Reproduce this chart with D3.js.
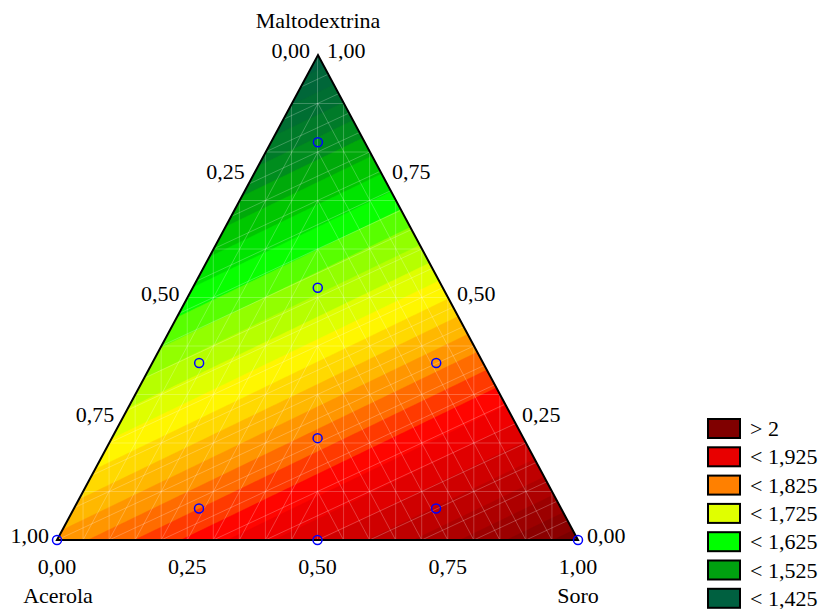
<!DOCTYPE html>
<html>
<head>
<meta charset="utf-8">
<script src="https://cdn.jsdelivr.net/npm/d3@7"></script>
<style>
  body { margin: 0; background: #fff; }
  text { font-family: "Liberation Serif", "Times New Roman", serif; font-size: 22px; fill: #000; }
</style>
</head>
<body>
<svg id="chart"></svg>
<script>
// Chart size
const width = 824;
const height = 609;

// Components (corner names) and fitted linear coefficients
const components = ["Acerola", "Soro", "Maltodextrina"];
const coefficients = [1.76, 2.04, 1.36];

// Design points (fractions of each component)
const pointsA = [1, 0, 0.5, 0.695, 0.24, 0.545, 0.09, 0.395, 0.24, 0.09];
const pointsS = [0, 1, 0.5, 0.24, 0.695, 0.09, 0.545, 0.395, 0.24, 0.09];
const pointsM = [0, 0, 0, 0.065, 0.065, 0.365, 0.365, 0.21, 0.52, 0.82];

// Axis ticks
const ticks = [0, 0.25, 0.5, 0.75, 1];

// Legend
const legendLabels = ["> 2", "< 1,925", "< 1,825", "< 1,725", "< 1,625", "< 1,525", "< 1,425"];
const legendColors = ["#800000", "#e80000", "#ff8000", "#e0ff00", "#00ff00", "#00a010", "#006040"];

// Contour levels
const levelStart = 1.275;
const levelStep = 0.025;
const levelCount = 36;

// Color ramp for the contour bands
const rampValues = [1.36, 1.42, 1.46, 1.50, 1.56, 1.60, 1.65, 1.68, 1.72, 1.77, 1.80, 1.84, 1.90, 2.04];
const rampColors = ["#006040", "#007030", "#008a20", "#00b800", "#00ff00", "#80ff00", "#c8ff00", "#ffff00",
                    "#ffd000", "#ff8c00", "#ff5500", "#ff0000", "#d80000", "#780000"];

const svg = d3.select("#chart")
    .attr("width", width)
    .attr("height", height);

// Triangle corners on screen: Acerola bottom-left, Soro bottom-right, Maltodextrina top
const cA = [57, 540], cS = [578, 540], cM = [318, 55];

// barycentric -> screen
function project(a, s, m) {
    return [a * cA[0] + s * cS[0] + m * cM[0], a * cA[1] + s * cS[1] + m * cM[1]];
}
// screen -> barycentric
function unproject(x, y) {
    const m = (cA[1] - y) / (cA[1] - cM[1]);
    const s = (x - cA[0] - m * (cM[0] - cA[0])) / (cS[0] - cA[0]);
    return [1 - s - m, s, m];
}
function model(a, s, m) {
    return coefficients[0] * a + coefficients[1] * s + coefficients[2] * m;
}

const fmt = d3.formatLocale({ decimal: ",", thousands: ".", grouping: [3], currency: ["", ""] }).format(".2f");

// Clip paths: whole triangle, and left / right halves
const triPath = "M" + [cA, cS, cM].map(p => p.join(",")).join("L") + "Z";
svg.append("clipPath").attr("id", "tri").append("path").attr("d", triPath);
svg.append("clipPath").attr("id", "leftHalf").append("rect")
    .attr("x", 0).attr("y", 0).attr("width", cM[0]).attr("height", height);
svg.append("clipPath").attr("id", "rightHalf").append("rect")
    .attr("x", cM[0]).attr("y", 0).attr("width", width - cM[0]).attr("height", height);

const plot = svg.append("g").attr("clip-path", "url(#tri)");

// Contour grid over the triangle bounding box
const step = 2;
const x0 = 50, y0 = 50;
const nx = Math.ceil((585 - x0) / step) + 1;
const ny = Math.ceil((545 - y0) / step) + 1;
const grid = new Array(nx * ny);
for (let j = 0; j < ny; j++) {
    for (let i = 0; i < nx; i++) {
        const b = unproject(x0 + i * step, y0 + j * step);
        grid[j * nx + i] = model(b[0], b[1], b[2]);
    }
}

const thresholds = d3.range(levelCount).map(k => levelStart + k * levelStep);
const color = d3.scaleLinear().domain(rampValues).range(rampColors).clamp(true);

const contours = d3.contours().size([nx, ny]).thresholds(thresholds)(grid);
const path = d3.geoPath(d3.geoTransform({
    point(x, y) { this.stream.point(x0 + x * step, y0 + y * step); }
}));

plot.append("rect")
    .attr("x", 0).attr("y", 0).attr("width", width).attr("height", height)
    .attr("fill", color(levelStart - levelStep / 2));

plot.selectAll("path.band")
    .data(contours)
    .join("path")
    .attr("class", "band")
    .attr("d", path)
    .attr("fill", d => color(d.value + levelStep / 2))
    .attr("stroke", d => color(d.value + levelStep / 2))
    .attr("stroke-width", 0.5);

// Faint triangulation mesh
const colW = (cS[0] - cA[0]) / 20;        // column width
const rowH = (cA[1] - cM[1]) / 20;        // half row height
const shallow = (rowH / 2) / colW;        // slope of the shallow diagonals
const meshAll = [];
d3.range(1, 20).forEach(k => {            // verticals
    meshAll.push([[cA[0] + k * colW, 0], [cA[0] + k * colW, height]]);
});
d3.range(1, 10).forEach(j => {            // horizontals
    meshAll.push([[0, cA[1] - 2 * j * rowH], [width, cA[1] - 2 * j * rowH]]);
});
d3.range(-12, 32).forEach(k => {          // shallow rising diagonals
    const yk = cA[1] - k * rowH;
    meshAll.push([[cA[0], yk], [cS[0], yk - shallow * (cS[0] - cA[0])]]);
});
const meshLeft = d3.range(-1, 21).map(k => [project(1 - k / 20 + 1, k / 20, -1), project(-1, k / 20, 2 - k / 20)]);
const meshRight = d3.range(-1, 21).map(k => [project(k / 20, 2 - k / 20, -1), project(k / 20, -1, 2 - k / 20)]);

function drawMesh(g, lines) {
    g.selectAll("line")
        .data(lines)
        .join("line")
        .attr("x1", d => d[0][0]).attr("y1", d => d[0][1])
        .attr("x2", d => d[1][0]).attr("y2", d => d[1][1])
        .attr("stroke", "#ffffff")
        .attr("stroke-opacity", 0.3)
        .attr("stroke-width", 0.8);
}
drawMesh(plot.append("g"), meshAll);
drawMesh(plot.append("g").attr("clip-path", "url(#leftHalf)"), meshLeft);
drawMesh(plot.append("g").attr("clip-path", "url(#rightHalf)"), meshRight);

// Triangle outline
svg.append("path")
    .attr("d", triPath)
    .attr("fill", "none")
    .attr("stroke", "#000")
    .attr("stroke-width", 2)
    .attr("stroke-linejoin", "miter");

// Design points
svg.selectAll("circle.pt")
    .data(pointsA.map((a, i) => [a, pointsS[i], pointsM[i]]))
    .join("circle")
    .attr("class", "pt")
    .attr("cx", d => project(d[0], d[1], d[2])[0])
    .attr("cy", d => project(d[0], d[1], d[2])[1])
    .attr("r", 4.5)
    .attr("fill", "none")
    .attr("stroke", "#0000ff")
    .attr("stroke-width", 1.5);

// Bottom axis (Soro)
svg.selectAll("text.tb")
    .data(ticks)
    .join("text")
    .attr("class", "tb")
    .attr("x", v => project(1 - v, v, 0)[0])
    .attr("y", 574)
    .attr("text-anchor", "middle")
    .text(fmt);

// Left axis (Acerola)
svg.selectAll("text.tl")
    .data(ticks)
    .join("text")
    .attr("class", "tl")
    .attr("x", v => project(v, 0, 1 - v)[0] - 8)
    .attr("y", v => project(v, 0, 1 - v)[1] + 3)
    .attr("text-anchor", "end")
    .text(fmt);

// Right axis (Maltodextrina)
svg.selectAll("text.tr")
    .data(ticks)
    .join("text")
    .attr("class", "tr")
    .attr("x", v => project(0, 1 - v, v)[0] + 9)
    .attr("y", v => project(0, 1 - v, v)[1] + 3)
    .attr("text-anchor", "start")
    .text(fmt);

// Corner names
svg.append("text").attr("x", 58).attr("y", 603).attr("text-anchor", "middle").text(components[0]);
svg.append("text").attr("x", 578).attr("y", 603).attr("text-anchor", "middle").text(components[1]);
svg.append("text").attr("x", 318).attr("y", 28).attr("text-anchor", "middle").text(components[2]);

// Legend
const legend = svg.selectAll("g.leg")
    .data(legendLabels)
    .join("g")
    .attr("class", "leg")
    .attr("transform", (d, i) => `translate(708, ${419 + i * 28.3})`);
legend.append("rect")
    .attr("width", 32).attr("height", 19)
    .attr("fill", (d, i) => legendColors[i])
    .attr("stroke", "#000")
    .attr("stroke-width", 2);
legend.append("text")
    .attr("x", 42).attr("y", 17)
    .text(d => d);
</script>
</body>
</html>
